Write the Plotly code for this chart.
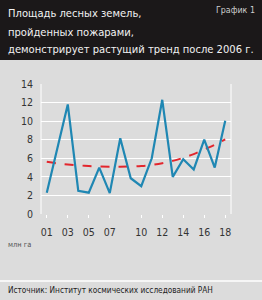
import plotly.graph_objects as go

years = list(range(2001, 2019))
burned_area = [2.3, 7.1, 11.8, 2.5, 2.3, 5.0, 2.25, 8.15, 3.85, 3.0, 6.0, 12.3, 4.0, 5.9, 4.8, 8.0, 5.0, 10.05]
trend = [5.63, 5.45, 5.33, 5.24, 5.17, 5.12, 5.1, 5.1, 5.12, 5.17, 5.28, 5.46, 5.72, 6.05, 6.45, 6.95, 7.45, 8.03]
tick_vals = [2001, 2003, 2005, 2007, 2010, 2012, 2014, 2016, 2018]
tick_text = ["01", "03", "05", "07", "10", "12", "14", "16", "18"]

W, H = 262, 300
L, R, T, B = 41, 231, 84, 214
FONT = "DejaVu Sans Condensed, Liberation Sans, sans-serif"

def px(x):
    return (x - L) / (R - L)

def py(y):
    return (B - y) / (B - T)

fig = go.Figure()
fig.add_trace(go.Scatter(x=years, y=trend, mode="lines",
                         line=dict(color="#e3262d", width=2, dash="dash", shape="spline"),
                         hoverinfo="skip"))
fig.add_trace(go.Scatter(x=years, y=burned_area, mode="lines",
                         line=dict(color="#1f87b3", width=2.2)))

shapes = [
    dict(type="rect", xref="paper", yref="paper", x0=px(0), x1=px(W), y0=py(60), y1=py(0),
         fillcolor="#1b1819", line=dict(width=0), layer="below"),
    dict(type="line", xref="paper", yref="paper", x0=px(0), x1=px(W), y0=py(281), y1=py(281),
         line=dict(color="#ffffff", width=1.5)),
    dict(type="line", xref="paper", yref="paper", x0=0, x1=0, y0=0, y1=1,
         line=dict(color="#ffffff", width=1), layer="below"),
    dict(type="line", xref="paper", yref="paper", x0=1, x1=1, y0=0, y1=1,
         line=dict(color="#ffffff", width=1), layer="below"),
]

title_lines = ["Площадь лесных земель,", "пройденных пожарами,",
               "демонстрирует растущий тренд после 2006 г."]
title_centers = [14.0, 32.3, 49.0]
annotations = []
for t, c in zip(title_lines, title_centers):
    annotations.append(dict(text=t, xref="paper", yref="paper", x=px(6), y=py(c),
                            xanchor="left", yanchor="middle", showarrow=False,
                            font=dict(family=FONT, size=11.1, color="#f2f2f2")))
annotations.append(dict(text="График 1", xref="paper", yref="paper", x=px(257), y=py(10),
                        xanchor="right", yanchor="middle", showarrow=False,
                        font=dict(family=FONT, size=8.8, color="#cfcfcf")))
annotations.append(dict(text="млн га", xref="paper", yref="paper", x=px(6), y=py(244),
                        xanchor="left", yanchor="middle", showarrow=False,
                        font=dict(family=FONT, size=7.4, color="#555555")))
annotations.append(dict(text="Источник: Институт космических исследований РАН", xref="paper",
                        yref="paper", x=px(6), y=py(290), xanchor="left", yanchor="middle",
                        showarrow=False, font=dict(family=FONT, size=8.2, color="#222222")))

fig.update_layout(
    width=W, height=H,
    margin=dict(l=L, r=W - R, t=T, b=H - B, pad=0),
    paper_bgcolor="#dcdcdc", plot_bgcolor="#dcdcdc",
    showlegend=False,
    shapes=shapes, annotations=annotations,
    xaxis=dict(range=[2000.45, 2018.55], tickvals=tick_vals, ticktext=tick_text,
               showgrid=False, zeroline=False, showline=False,
               ticks="outside", ticklen=3, tickcolor="#ffffff", ticklabelstandoff=5,
               tickfont=dict(family=FONT, size=10.5, color="#333333")),
    yaxis=dict(range=[0, 14], dtick=2, showgrid=True, gridcolor="#ffffff", gridwidth=1,
               zeroline=False, showline=False, ticks="", ticklabelstandoff=7,
               tickfont=dict(family=FONT, size=10.5, color="#333333")),
)

fig.write_html("out.html")
